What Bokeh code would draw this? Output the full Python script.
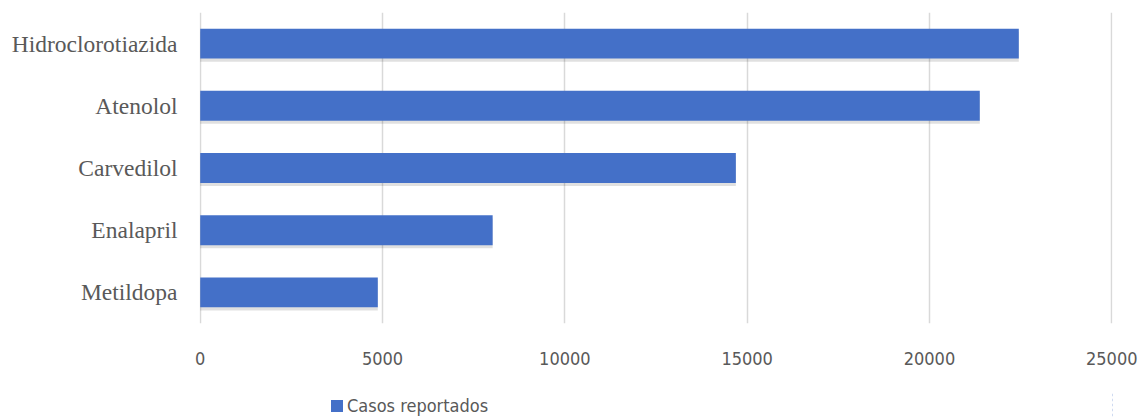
from bokeh.plotting import figure
from bokeh.layouts import column
from bokeh.models import Legend, LegendItem, ColumnDataSource, FixedTicker
from bokeh.transform import dodge
from bokeh.embed import file_html
from bokeh.resources import INLINE

drugs = ["Hidroclorotiazida", "Atenolol", "Carvedilol", "Enalapril", "Metildopa"]
cases = [22450, 21380, 14690, 8020, 4870]
x_ticks = [0, 5000, 10000, 15000, 20000, 25000]
series_name = "Casos reportados"

SANS = "Liberation Sans Narrow, DejaVu Sans Condensed, Roboto, sans-serif"
BAR = "#4470c8"

src = ColumnDataSource(dict(drug=drugs, cases=cases))

p = figure(width=1144, height=392, y_range=list(reversed(drugs)), x_range=(-20, 25020),
           output_backend="svg", toolbar_location=None,
           min_border_left=199, min_border_right=32, min_border_top=12, min_border_bottom=69)
p.outline_line_color = None
p.background_fill_color = "white"

# shadow
p.hbar(y=dodge("drug", -0.05, range=p.y_range), left=0, right="cases", height=0.48,
       source=src, fill_color="black", fill_alpha=0.12, line_color=None)
p.hbar(y="drug", left=0, right="cases", height=0.48, source=src,
       fill_color=BAR, line_color=None)

p.xaxis.ticker = FixedTicker(ticks=x_ticks)
p.xaxis.axis_line_color = None
p.xaxis.major_tick_line_color = None
p.xaxis.minor_tick_line_color = None
p.xaxis.major_label_text_font = SANS
p.xaxis.major_label_text_font_size = "18px"
p.xaxis.major_label_text_color = "#595959"
p.xaxis.major_label_standoff = 22

p.yaxis.axis_line_color = None
p.yaxis.major_tick_line_color = None
p.yaxis.minor_tick_line_color = None
p.yaxis.major_label_text_font = "Liberation Serif"
p.yaxis.major_label_text_font_size = "23.5px"
p.yaxis.major_label_text_color = "#595959"
p.yaxis.major_label_standoff = 16

p.xgrid.grid_line_color = "#d9d9d9"
p.xgrid.grid_line_width = 1.5
p.ygrid.grid_line_color = None

# legend strip (separate figure so it is not clipped)
lf = figure(width=1144, height=25, y_range=drugs, x_range=(-2e6, -1e6),
            output_backend="svg", toolbar_location=None,
            min_border=0, min_border_left=0, min_border_right=0,
            min_border_top=0, min_border_bottom=0)
lf.outline_line_color = None
lf.border_fill_color = "white"
lf.axis.visible = False
lf.grid.visible = False
lr = lf.hbar(y="drug", left=0, right="cases", height=0.48, source=src,
             fill_color=BAR, line_color=None)
legend = Legend(items=[LegendItem(label=series_name, renderers=[lr])],
                location=(130, 1), orientation="horizontal",
                padding=0, margin=0, spacing=0, label_standoff=3,
                glyph_width=15, glyph_height=15, border_line_color=None,
                background_fill_alpha=0,
                label_text_font=SANS, label_text_font_size="18px",
                label_text_color="#595959")
lf.add_layout(legend, "center")

layout = column(p, lf, spacing=0)
open("out.html", "w").write(file_html(layout, INLINE))
